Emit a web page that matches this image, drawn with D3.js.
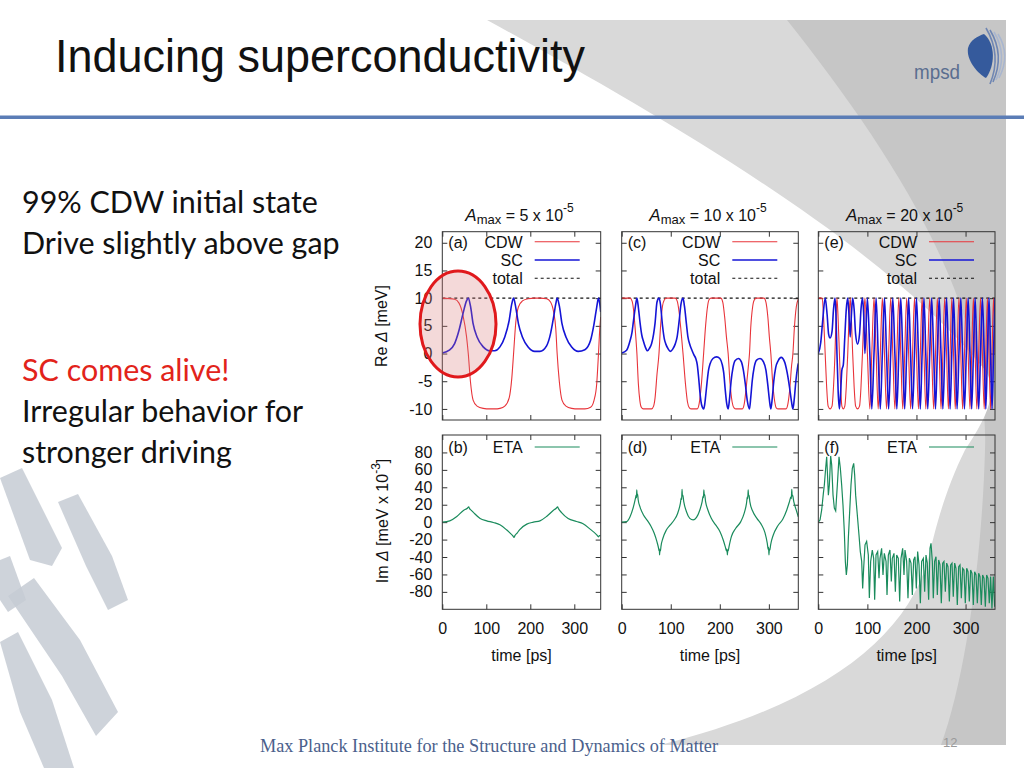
<!DOCTYPE html>
<html>
<head>
<meta charset="utf-8">
<script src="https://cdn.jsdelivr.net/npm/d3@7"></script>
<style>
body { margin: 0; background: #fff; }
svg { display: block; }
</style>
</head>
<body>
<div class="container"></div>
<script>
// ---------- data ----------
var tickTop = [-10, -5, 0, 5, 10, 15, 20];
var tickBot = [-80, -60, -40, -20, 0, 20, 40, 60, 80];
var tickTime = [0, 100, 200, 300];
var ampLabels = ["5", "10", "20"];
var topLetters = ["(a)", "(c)", "(e)"];
var botLetters = ["(b)", "(d)", "(f)"];
var bullets1 = ["99% CDW initial state", "Drive slightly above gap"];
var bullets2 = ["SC comes alive!", "Irregular behavior for", "stronger driving"];

// (a) A_max = 5 x 10^-5 : [time ps, Re Delta meV]
var cdwA = [[0,10],[28,9.8],[38,9.1],[47,6.9],[55,3.1],[59,0],[64,-5.1],[70,-8.4],[79,-9.5],[93,-9.9],[108,-10],[119,-10],[131,-9.9],[142,-9.5],[152,-8],[158,-4.4],[162,0],[167,5.6],[173,8.4],[182,9.5],[195,9.9],[210,10],[222,10],[237,9.9],[246,9.3],[253,7.5],[258,4.4],[261,0],[266,-5.1],[272,-8.4],[281,-9.5],[294,-9.9],[309,-10],[324,-10],[337,-9.7],[345,-8.4],[351,-5.4],[355,0],[358,4.6],[360,6.6]];
var scA = [[0,0.1],[16,0.6],[28,1.8],[38,4.2],[47,7.2],[55,9.5],[59,10],[64,8.6],[70,5.4],[79,3],[93,1.2],[108,0.5],[119,0.5],[131,1.2],[142,3],[152,6],[158,9],[162,10],[167,8.3],[173,5.4],[182,3],[195,1.2],[210,0.4],[222,0.4],[237,1.4],[246,3.6],[253,6.6],[258,9],[261,10],[266,8.6],[272,5.4],[281,3],[294,1.2],[309,0.4],[324,0.7],[337,2.4],[345,5.4],[351,8.4],[355,10],[358,8.9],[360,7.5]];
// (b) Im Delta [meV x 10^-3]
var etaA = [[0,0],[17,1.5],[33,6.5],[48,13.4],[57,16],[60,17.5],[62,15.5],[66,13.5],[71,11],[86,4.2],[101,1.5],[116,-0.4],[131,-3],[146,-8.8],[156,-13.5],[160,-15.5],[163,-17.5],[165,-15.5],[170,-12.5],[176,-8.5],[192,-2.3],[207,0],[222,1.5],[237,6.5],[252,13.4],[259,16],[262,17.5],[264,15.5],[271,11],[286,4.2],[305,0.8],[320,-1.9],[336,-8],[351,-14.5],[355,-16.8],[357,-15.5],[360,-15.5]];

// (c) A_max = 10 x 10^-5
var cdwC = [[0,10],[17,10],[21,9.5],[24,8],[27,5],[31,0],[34,-5.5],[37,-8.5],[40,-9.7],[44,-10],[61,-10],[65,-9.5],[68,-8],[72,-3.7],[76,0],[79,4.6],[83,8.5],[87,9.7],[91,10],[109,10],[113,9.5],[117,7.5],[121,4],[125,0],[130,-5.5],[134,-8.7],[138,-9.8],[142,-10],[154,-10],[158,-9],[162,-6],[167,0],[171,5],[175,8.5],[178,9.7],[182,10],[202,10],[206,9.3],[210,6.5],[213.5,3],[217,0],[221,-5.5],[225,-8.7],[229,-9.8],[233,-10],[246,-10],[250,-9],[254,-6],[258,-2.5],[260.5,0],[263,4.6],[267,8.5],[271,9.8],[275,10],[290,10],[294,9.3],[298,6.5],[301,3],[304,0],[308,-5.5],[312,-8.7],[315,-9.8],[319,-10],[335,-10],[339,-9],[343,-6],[346,-2.5],[349,0],[352,4.6],[356,8.5],[360,9.8]];
var scC = [[0,0.1],[10,0.6],[17,2.3],[21,3.8],[24,5.9],[28,8.5],[31,10],[34,8.3],[37.5,5.5],[41,3.3],[44,2.3],[48,1.2],[52.6,0.5],[57,1],[61,1.8],[65,3.5],[68,5.5],[72,9.3],[76,10],[79,8.9],[83,5.2],[87,2.6],[90,1.7],[95,0.8],[99,0.4],[104,0.8],[109,1.7],[113,3],[117,5.8],[121,9],[125,10],[128,8.5],[132,5.3],[135,3],[139,1.6],[143.6,0.5],[147,-0.2],[151,-0.9],[154,-2],[157,-4.5],[160,-7.5],[163,-9.3],[167,-10],[169,-9.3],[171,-7.8],[174,-5.2],[177,-3],[180,-1.9],[186,-0.9],[193.5,-0.6],[200,-0.9],[205,-2],[208,-3.5],[211,-6.5],[214,-9],[217,-10],[220,-8],[223,-5],[227,-2.5],[231,-1.3],[238,-0.9],[244,-1.5],[248,-3],[252,-5.5],[256,-8.5],[260.5,-10],[263,-8],[266,-5],[270,-2.5],[275,-1.2],[282,-0.9],[289,-1.5],[294,-3],[298,-5.8],[301,-8.3],[304,-10],[307,-8],[310,-5],[314,-2.5],[319,-1.3],[325,-0.7],[332,-1.5],[337,-3.3],[342,-6],[346,-8.6],[349,-10],[352,-8],[355,-5],[358,-2.8],[360,-1.8]];
// (d)
var etaC = [[0,0],[10,0.6],[17,6.3],[24,17.8],[28,27.3],[29.5,31],[30.2,28],[30.7,37],[31.6,30],[32.5,32],[33.5,26],[37.6,17],[44.4,8.2],[52.6,1.7],[59.4,-4.4],[66.3,-12.8],[71.8,-22.4],[75.2,-30],[76.2,-33],[76.8,-31],[77.2,-37.7],[78,-32],[79,-33],[80,-28],[84,-18.5],[91,-9],[99,-3.2],[107,2.5],[114,10],[119.6,21.6],[121.5,28],[122.2,26],[123,37.7],[123.8,30],[124.6,31],[126.5,23.5],[132,12],[138.8,4.4],[145.6,2.5],[152.5,5.5],[159.3,14],[164,23.5],[166,30],[166.7,28],[167.5,37],[168.3,31],[169,32],[171,23.5],[175.7,14],[182.6,4.4],[191.5,-3.2],[200.4,-11],[207,-20.5],[212,-30],[213.5,-33],[214.5,-31],[215.4,-37.7],[216.3,-32],[217,-33],[218.8,-28],[223.6,-16.6],[232.5,-7],[242.8,0.6],[249.6,10],[254.4,21.6],[256.2,29],[257,27],[257.8,37],[258.6,30],[259.5,31],[261.2,23.5],[266.7,13],[275.6,4.4],[285.2,-3.2],[292,-12],[296.8,-24.3],[298.6,-31],[299.4,-29],[300.2,-37.7],[301,-31],[302,-32],[303.6,-26],[309,-14.7],[318,-4.4],[328.3,3.3],[336.5,14],[342,23.5],[345,29],[345.8,27],[346.7,37.7],[347.5,30],[348.3,31],[350.8,23.5],[356.3,13],[360,6]];

// (e) A_max = 20 x 10^-5
var cdwE = [[0,10],[8,10],[11,6],[14,0],[17,-6],[20,-9.5],[24,-10],[28,-9.5],[31,-6],[34,0],[36,6],[38,10],[40.5,6],[43,0],[45.5,-6],[48,-9.5],[51,-10],[54,-9.5],[57,-6],[60,0],[62.5,6],[65,10],[67.5,6],[70,0],[73,-6],[76,-9.5],[80,-10],[84,-9.5],[87,-6],[90,0],[92.5,6],[95,10],[100,0],[105,-10],[109,0],[113.5,10],[117.8,0],[122,-10],[126.3,0],[130.5,10],[134.8,0],[139,-10],[143.3,0],[147.5,10],[151.8,0],[156,-10],[160,0],[164,10],[168,0],[172,-10],[176,0],[180,10],[184,0],[188,-10],[192,0],[196,10],[200,0],[204,-10],[207.8,0],[211.5,10],[215.3,0],[219,-10],[223,0],[227,10],[231,0],[235,-10],[238.8,0],[242.5,10],[246.3,0],[250,-10],[253.8,0],[257.5,10],[261.3,0],[265,-10],[268.5,0],[272,10],[275.5,0],[279,-10],[282.8,0],[286.5,10],[290.3,0],[294,-10],[297.8,0],[301.5,10],[305.3,0],[309,-10],[312.5,0],[316,10],[319.5,0],[323,-10],[326.8,0],[330.5,10],[334.3,0],[338,-10],[341.3,0],[344.5,10],[347.8,0],[351,-10],[354,0],[357,10],[360,0]];
var scE = [[0,0],[5,2],[9,6],[14,10],[18,7],[21,3.5],[24,2.8],[28,4],[31,8],[34,10],[36,7],[38,0],[40.5,-7],[43,-10],[45.5,-7],[48,-3],[51,-2],[54,3],[57,8],[60,10],[62.5,7],[65,3],[67.5,7],[70,10],[73,8],[76,3.5],[80,1.7],[84,3.5],[87,8],[90,10],[92.5,7],[95,0],[100,10],[105,0],[109,-10],[113.5,0],[117.8,10],[122,0],[126.3,-10],[130.5,0],[134.8,10],[139,0],[143.3,-10],[147.5,0],[151.8,10],[156,0],[160,-10],[164,0],[168,10],[172,0],[176,-10],[180,0],[184,10],[188,0],[192,-10],[196,0],[200,10],[204,0],[207.8,-10],[211.5,0],[215.3,10],[219,0],[223,-10],[227,0],[231,10],[235,0],[238.8,-10],[242.5,0],[246.3,10],[250,0],[253.8,-10],[257.5,0],[261.3,10],[265,0],[268.5,-10],[272,0],[275.5,10],[279,0],[282.8,-10],[286.5,0],[290.3,10],[294,0],[297.8,-10],[301.5,0],[305.3,10],[309,0],[312.5,-10],[316,0],[319.5,10],[323,0],[326.8,-10],[330.5,0],[334.3,10],[338,0],[341.3,-10],[344.5,0],[347.8,10],[351,0],[354,-10],[357,0],[360,10]];
// (f)
var etaE = [[0,0],[3.5,2.5],[6.9,14],[10.3,33],[12.3,42.6],[15,61.8],[17.1,75],[19.1,50],[20.5,31],[22.5,42.6],[25.2,76],[27.3,65.6],[30,31],[32.7,16],[35.4,12.8],[38.8,42.6],[42.2,75],[44.9,61.8],[47.6,42.6],[50.3,19.7],[53,-10.7],[55.1,-45],[57.1,-60.6],[59.2,-49],[61.2,-18.5],[63.9,12],[66.6,42.6],[69.3,61.8],[72.1,67.5],[74.1,54],[76.1,31],[79.5,8.2],[82.9,-14.7],[85.6,-33.8],[88.4,-45],[90.4,-76],[92.4,-53],[95.2,-26],[98.5,-22],[101.9,-37.7],[104,-87],[106.7,-45],[110,-32],[112.8,-41.5],[114.8,-89],[117.6,-37.7],[121,-33.8],[123.7,-64.4],[125.7,-41.5],[129,-30],[131.8,-60.6],[134.5,-35.8],[138,-45],[140,-83.6],[142.7,-37.7],[146,-32],[148.8,-68],[150.8,-41.5],[154.2,-35.8],[157,-79.7],[159.7,-37.7],[163,-41.5],[165.8,-91],[168.5,-41.5],[171.9,-30],[174.6,-60.6],[176.6,-32],[180,-45],[182.7,-87.4],[185.5,-41.5],[188.9,-47],[191.6,-83.6],[194.3,-43.4],[197,-39.6],[199.7,-76],[202.4,-33.8],[205.2,-49],[207.9,-93],[210.6,-45],[214,-41.5],[216.7,-79.7],[219.4,-37.7],[222,-47],[224.8,-89],[227.6,-30],[229.6,-24.3],[232.3,-45],[234.3,-87.4],[237,-45],[239.8,-39.6],[242.5,-83.6],[245.2,-43.4],[247.9,-49],[250.6,-93],[253.4,-47],[256,-45],[258.8,-79.7],[261.5,-47],[264.2,-51],[267,-91],[269.7,-49],[272.4,-47],[275,-85.5],[277.8,-47],[280.5,-53],[283.2,-95],[286,-51],[288.7,-49],[291.4,-87.4],[294.1,-53],[296.8,-55],[299.5,-93],[302.3,-53],[305,-56.8],[307.7,-91],[310.4,-55],[313.1,-58.7],[315.8,-95],[318.5,-56.8],[321.3,-60.6],[324,-93],[326.7,-58.7],[329.4,-62.5],[332.1,-95],[334.8,-60.6],[337.6,-64.4],[340.3,-97],[343,-60.6],[345.7,-64.4],[348.4,-93],[351.1,-62.5],[353.8,-99],[356.6,-62.5],[359.3,-97]];
var totalLevel = [[0,10],[360,10]];

// ---------- stage ----------
var W = 1024, H = 768;
var svg = d3.select(".container").append("svg").attr("width", W).attr("height", H);
var SANS = "Liberation Sans, Arial, sans-serif";

// slide background decoration
var bg = svg.append("g");
bg.append("path").attr("fill", "#d9d9d9")
  .attr("d", "M487,20 L1006,20 L1006,745 L660,745 Z");
bg.append("path").attr("fill", "#c6c6c6")
  .attr("d", "M787,20 C890,150 990,300 985,450 C982,560 965,680 941,745 L1006,745 L1006,20 Z");
bg.append("path").attr("fill", "#ffffff")
  .attr("d", "M487,20 C650,110 880,240 985,370 C1000,392 985,420 965,450 C945,490 935,530 928,560 C905,640 820,705 660,745 L0,745 L0,20 Z");
// brush strokes bottom left
var strokes = [
  "M0,478 L22,468 L62,548 L52,566 L30,560 Z",
  "M8,596 L34,578 L80,640 L118,712 L96,736 L62,676 Z",
  "M0,642 L18,632 L52,700 L74,768 L44,768 L20,712 Z",
  "M58,502 L78,494 L112,556 L128,600 L108,610 L86,566 Z",
  "M0,560 L10,556 L26,600 L8,612 L0,600 Z"
];
bg.selectAll("path.stroke").data(strokes).enter().append("path")
  .attr("class", "stroke").attr("d", function(d) { return d; })
  .attr("fill", "#c5cbd3").attr("opacity", 0.85);

// header
svg.append("text").attr("x", 55).attr("y", 72)
  .attr("font-family", SANS).attr("font-size", 46).attr("fill", "#111")
  .attr("textLength", 530).attr("lengthAdjust", "spacingAndGlyphs")
  .text("Inducing superconductivity");
svg.append("rect").attr("x", 0).attr("y", 115.5).attr("width", W).attr("height", 3.5).attr("fill", "#5b7db6");
// mpsd logo
svg.append("text").attr("x", 914).attr("y", 79).attr("font-family", SANS).attr("font-size", 21)
  .attr("textLength", 46).attr("lengthAdjust", "spacingAndGlyphs")
  .attr("fill", "#5a6e90").text("mpsd");
svg.append("path").attr("fill", "#355a9c")
  .attr("d", "M984,34 C996,44 995,66 986,78 C978,74 966,60 968,48 C970,40 978,36 984,34 Z");
[0, 1, 2, 3].forEach(function(i) {
  svg.append("path").attr("fill", "none").attr("stroke", i < 2 ? "#6f86b3" : "#a9b6cf").attr("stroke-width", 1.6)
    .attr("d", "M" + (986 + i * 4) + "," + (28 + i * 2) + " Q" + (1002 + i * 3) + ",55 " + (990 + i * 3) + "," + (84 - i * 2));
});

// bullets
var bulletFont = "Lato, 'Open Sans', sans-serif";
var tmp = svg.append("text").attr("font-family", bulletFont).attr("font-size", 28).text(bullets1[0]);
var bSize = 28 * 296 / tmp.node().getComputedTextLength();
tmp.remove();
var b1y = [213, 254];
bullets1.forEach(function(t, i) {
  svg.append("text").attr("x", 22).attr("y", b1y[i]).attr("font-family", bulletFont)
    .attr("font-size", bSize).attr("fill", "#111").text(t);
});
var b2y = [381, 422, 463];
bullets2.forEach(function(t, i) {
  svg.append("text").attr("x", 22).attr("y", b2y[i]).attr("font-family", bulletFont)
    .attr("font-size", bSize).attr("fill", i === 0 ? "#e2231a" : "#111").text(t);
});

// footer
svg.append("text").attr("x", 260).attr("y", 752).attr("font-family", "Liberation Serif, serif")
  .attr("font-size", 18).attr("fill", "#4b5f8c").attr("textLength", 458).attr("lengthAdjust", "spacingAndGlyphs")
  .text("Max Planck Institute for the Structure and Dynamics of Matter");
svg.append("text").attr("x", 943).attr("y", 747).attr("font-family", SANS)
  .attr("font-size", 13).attr("fill", "#9a9a9a").text("12");

// ---------- panels ----------
var cols = [
  {x0: 442.3, x1: 600.7, cdw: cdwA, sc: scA, eta: etaA},
  {x0: 621.7, x1: 798.3, cdw: cdwC, sc: scC, eta: etaC},
  {x0: 818.3, x1: 995.0, cdw: cdwE, sc: scE, eta: etaE}
];
var topY = [231.7, 420], botY = [435, 609.3];
var RED = "#e8343a", BLUE = "#1414d6", GREEN = "#1a8b5c";
var plain = function(d) { return String(d); };

function styleAxis(g) {
  g.select(".domain").remove();
  g.selectAll("line").attr("stroke", "#333");
  g.selectAll("text").attr("font-family", SANS).attr("font-size", 16).attr("fill", "#111");
}

function drawPanel(ci, row) {
  var c = cols[ci];
  var yr = row === 0 ? topY : botY;
  var x = d3.scaleLinear().domain([0, 360]).range([c.x0, c.x1]);
  var y = row === 0 ? d3.scaleLinear().domain([-12, 22]).range([yr[1], yr[0]])
                    : d3.scaleLinear().domain([-100, 100]).range([yr[1], yr[0]]);
  var ticks = row === 0 ? tickTop : tickBot;
  var g = svg.append("g");
  var id = "clip" + ci + row;
  svg.append("clipPath").attr("id", id).append("rect")
    .attr("x", c.x0).attr("y", yr[0]).attr("width", c.x1 - c.x0).attr("height", yr[1] - yr[0]);

  var la = g.append("g").attr("transform", "translate(" + c.x0 + ",0)")
    .call(d3.axisLeft(y).tickValues(ticks).tickSize(-5).tickPadding(10).tickFormat(ci === 0 ? plain : ""));
  styleAxis(la);
  var ra = g.append("g").attr("transform", "translate(" + c.x1 + ",0)")
    .call(d3.axisRight(y).tickValues(ticks).tickSize(-5).tickFormat(""));
  styleAxis(ra);
  var ba = g.append("g").attr("transform", "translate(0," + yr[1] + ")")
    .call(d3.axisBottom(x).tickValues(tickTime).tickSize(-5).tickPadding(13).tickFormat(row === 1 ? plain : ""));
  styleAxis(ba);
  var ta = g.append("g").attr("transform", "translate(0," + yr[0] + ")")
    .call(d3.axisTop(x).tickValues(tickTime).tickSize(-5).tickFormat(""));
  styleAxis(ta);

  var lines = g.append("g").attr("clip-path", "url(#" + id + ")");
  var mk = function(curve) {
    return d3.line().x(function(d) { return x(d[0]); }).y(function(d) { return y(d[1]); }).curve(curve);
  };
  if (row === 0) {
    lines.append("path").datum(totalLevel).attr("d", mk(d3.curveLinear)).attr("fill", "none")
      .attr("stroke", "#111").attr("stroke-width", 1.1).attr("stroke-dasharray", "3,3");
    lines.append("path").datum(c.cdw).attr("d", mk(d3.curveMonotoneX)).attr("fill", "none")
      .attr("stroke", RED).attr("stroke-width", 1.1);
    lines.append("path").datum(c.sc).attr("d", mk(d3.curveMonotoneX)).attr("fill", "none")
      .attr("stroke", BLUE).attr("stroke-width", 1.6);
  } else {
    lines.append("path").datum(c.eta).attr("d", mk(ci === 2 ? d3.curveLinear : d3.curveMonotoneX)).attr("fill", "none")
      .attr("stroke", GREEN).attr("stroke-width", 1.2);
  }

  g.append("rect").attr("x", c.x0).attr("y", yr[0]).attr("width", c.x1 - c.x0).attr("height", yr[1] - yr[0])
    .attr("fill", "none").attr("stroke", "#333").attr("stroke-width", 1);

  // legend
  var lx1 = c.x1 - 66, lx2 = c.x1 - 21, tx = c.x1 - 78;
  var font = function(t) { return t.attr("font-family", SANS).attr("font-size", 16).attr("fill", "#111"); };
  if (row === 0) {
    font(g.append("text").attr("x", c.x0 + 6).attr("y", yr[0] + 16).text(topLetters[ci]));
    var items = [["CDW", RED, null, 1.1], ["SC", BLUE, null, 1.6], ["total", "#111", "3,3", 1.1]];
    items.forEach(function(it, k) {
      var yy = yr[0] + 10 + k * 18.3;
      font(g.append("text").attr("x", tx).attr("y", yy + 6).attr("text-anchor", "end").text(it[0]));
      g.append("line").attr("x1", lx1).attr("x2", lx2).attr("y1", yy).attr("y2", yy)
        .attr("stroke", it[1]).attr("stroke-width", it[3]).attr("stroke-dasharray", it[2]);
    });
  } else {
    font(g.append("text").attr("x", c.x0 + 6).attr("y", yr[0] + 18).text(botLetters[ci]));
    var yy = yr[0] + 12;
    font(g.append("text").attr("x", tx).attr("y", yy + 6).attr("text-anchor", "end").text("ETA"));
    g.append("line").attr("x1", lx1).attr("x2", lx2).attr("y1", yy).attr("y2", yy)
      .attr("stroke", GREEN).attr("stroke-width", 1.2);
  }

  if (row === 0) {
    var tt = g.append("text").attr("x", (c.x0 + c.x1) / 2 - 2).attr("y", 221).attr("text-anchor", "middle")
      .attr("font-family", SANS).attr("font-size", 16).attr("fill", "#111");
    tt.append("tspan").attr("font-style", "italic").attr("font-size", 17).text("A");
    tt.append("tspan").attr("font-size", 13).attr("dy", 3).text("max");
    tt.append("tspan").attr("dy", -3).text(" = " + ampLabels[ci] + " x 10");
    tt.append("tspan").attr("font-size", 12).attr("dy", -9).text("-5");
  } else {
    font(g.append("text").attr("x", (c.x0 + c.x1) / 2).attr("y", 661).attr("text-anchor", "middle").text("time [ps]"));
  }
}

[0, 1, 2].forEach(function(ci) { drawPanel(ci, 0); drawPanel(ci, 1); });

// y axis titles
var yt1 = svg.append("text").attr("transform", "translate(387,326) rotate(-90)").attr("text-anchor", "middle")
  .attr("font-family", SANS).attr("font-size", 16).attr("fill", "#111");
yt1.append("tspan").text("Re ");
yt1.append("tspan").attr("font-style", "italic").text("\u0394");
yt1.append("tspan").text(" [meV]");
var yt2 = svg.append("text").attr("transform", "translate(388,521) rotate(-90)").attr("text-anchor", "middle")
  .attr("font-family", SANS).attr("font-size", 16).attr("fill", "#111");
yt2.append("tspan").text("Im ");
yt2.append("tspan").attr("font-style", "italic").text("\u0394");
yt2.append("tspan").text(" [meV x 10");
yt2.append("tspan").attr("font-size", 12).attr("dy", -8).text("-3");
yt2.append("tspan").attr("dy", 8).text("]");

// highlight ellipse on panel (a)
svg.append("ellipse").attr("cx", 458).attr("cy", 324).attr("rx", 38).attr("ry", 53)
  .attr("fill", "rgba(214,120,120,0.28)").attr("stroke", "#e0191c").attr("stroke-width", 3);
</script>
</body>
</html>
